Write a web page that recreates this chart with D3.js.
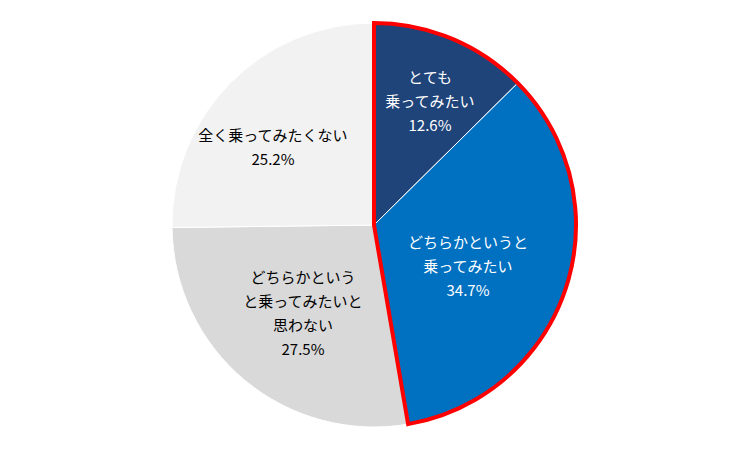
<!DOCTYPE html>
<html><head><meta charset="utf-8">
<script src="https://cdn.jsdelivr.net/npm/d3@7"></script>
<style>body{margin:0;background:#fff}</style></head>
<body><svg width="750" height="450"></svg>
<script>
const categories=["とても\n乗ってみたい","どちらかというと\n乗ってみたい","どちらかという\nと乗ってみたいと\n思わない","全く乗ってみたくない"];
const values=[12.6,34.7,27.5,25.2];
const colors=["#1F4479","#0070C0","#D9D9D9","#F2F2F2"];
const textColors=["#fff","#fff","#000","#000"];
const labelPos=[[430,78],[468,243],[303,278],[273,136]];
const svg=d3.select("svg");
const cx=374,cy=225,r=202;
const g=svg.append("g").attr("transform",`translate(${cx},${cy})`);
const pie=d3.pie().sort(null).value(d=>d)(values);
const arc=d3.arc().innerRadius(0).outerRadius(r);
g.selectAll("path.s").data(pie).join("path").attr("class","s").attr("d",arc)
 .attr("fill",(d,i)=>colors[i]).attr("stroke","#fff").attr("stroke-width",1);
g.append("path").attr("d",arc({startAngle:pie[0].startAngle,endAngle:pie[1].endAngle}))
 .attr("fill","none").attr("stroke","#FF0000").attr("stroke-width",4).attr("stroke-linejoin","miter");
categories.forEach((c,i)=>{
  const lines=c.split("\n").concat([values[i].toFixed(1)+"%"]);
  const t=svg.append("text").attr("text-anchor","middle").attr("fill",textColors[i])
   .attr("font-family","'Noto Sans CJK JP',sans-serif").attr("font-size",15);
  lines.forEach((l,j)=>t.append("tspan").attr("x",labelPos[i][0]).attr("y",labelPos[i][1]+j*24+5).text(l));
});
</script></body></html>
